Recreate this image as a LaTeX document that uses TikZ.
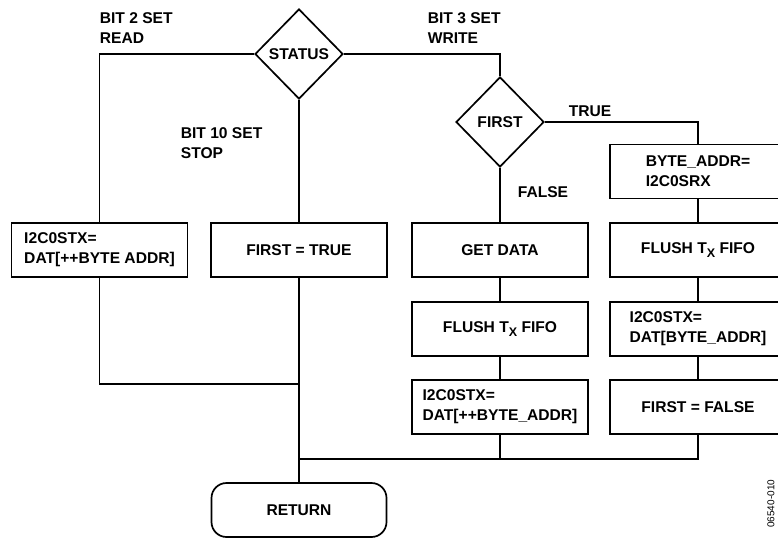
\documentclass[tikz,border=0pt]{standalone}
\usepackage{fontspec}
\setmainfont{Liberation Sans}
\usetikzlibrary{shapes.geometric}

\newcommand{\subX}{\raisebox{-3.5pt}{\fontsize{12.5}{12.5}\selectfont X}}

\begin{document}
\begin{tikzpicture}[x=1pt, y=-1pt, line width=1.7pt,
    every node/.style={font=\fontsize{15.6}{20}\selectfont\bfseries},
    decision/.style={draw, diamond, minimum width=88pt, minimum height=90pt, inner sep=0pt},
    process/.style={draw, rectangle, minimum width=176pt, minimum height=54pt, inner sep=0pt, align=center},
    leftproc/.style={process, align=left},
    terminal/.style={draw, rectangle, rounded corners=15pt, minimum width=175pt, minimum height=54pt},
    branch/.style={anchor=west, align=left, inner sep=0pt}]

    \clip (0,0) rectangle (778,538);

    \def \colL {99.5}
    \def \colM {299}
    \def \colW {500}
    \def \colT {698}
    \def \rowA {250}
    \def \rowB {329}
    \def \rowC {407}

    \node[decision] (status) at (\colM,54) {STATUS};
    \node[decision] (first) at (\colW,122) {FIRST};

    \node[leftproc] (wrread) at (\colL,\rowA) {I2C0STX=\\DAT[++BYTE ADDR]};
    \node[process] (settrue) at (\colM,\rowA) {FIRST = TRUE};

    \node[process] (getdata) at (\colW,\rowA) {GET DATA};
    \node[process] (flushA) at (\colW,\rowB) {FLUSH T\subX{} FIFO};
    \node[leftproc] (wrnext) at (\colW,\rowC) {I2C0STX=\\DAT[++BYTE\_ADDR]};

    \node[leftproc] (addr) at (\colT,171.5) {BYTE\_ADDR=\\I2C0SRX};
    \node[process] (flushB) at (\colT,\rowA) {FLUSH T\subX{} FIFO};
    \node[leftproc] (wrfirst) at (\colT,\rowB) {I2C0STX=\\DAT[BYTE\_ADDR]};
    \node[process] (setfalse) at (\colT,\rowC) {FIRST = FALSE};

    \node[terminal] (ret) at (\colM,510) {RETURN};

    \node[branch] (lblread) at (99,28) {BIT 2 SET\\READ};
    \node[branch] (lblwrite) at (427,28) {BIT 3 SET\\WRITE};
    \node[branch] (lblstop) at (180,143.5) {BIT 10 SET\\STOP};
    \node[branch] (lbltrue) at (568,111.5) {TRUE};
    \node[branch] (lblfalse) at (517,192.5) {FALSE};

    \draw (status.west) -| (wrread.north);
    \draw (status.south) -- (settrue.north);
    \draw (status.east) -| (first.north);
    \draw (first.east) -| (addr.north);
    \draw (first.south) -- (getdata.north);
    \draw (getdata) -- (flushA) -- (wrnext);
    \draw (addr) -- (flushB) -- (wrfirst) -- (setfalse);

    \coordinate (joinL) at (\colM,384);
    \coordinate (joinR) at (\colM,459);
    \draw (wrread.south) |- (joinL);
    \draw (settrue.south) -- (ret.north);
    \draw (wrnext.south) |- (joinR);
    \draw (setfalse.south) |- (joinR);

    \node[font=\fontsize{10}{12}\selectfont, rotate=90, anchor=east, inner sep=0pt] (figcode) at (771,479) {06540-010};

\end{tikzpicture}
\end{document}
